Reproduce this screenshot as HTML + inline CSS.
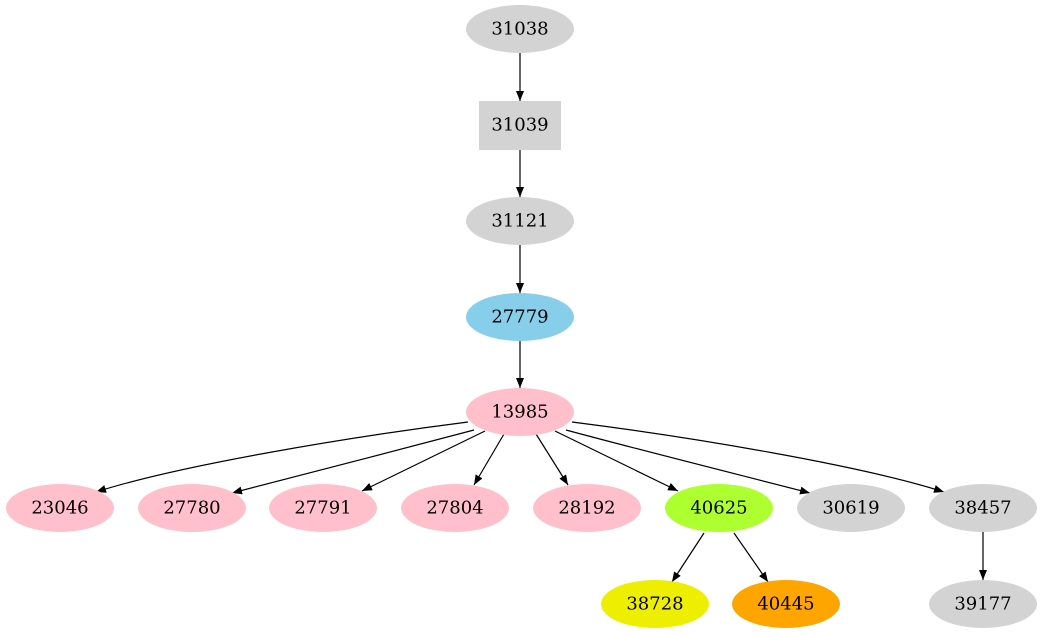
<!DOCTYPE html>
<html><head><meta charset="utf-8"><style>
html,body{margin:0;padding:0;background:#fff;}
svg{display:block;}
text{font-family:"DejaVu Serif",serif;font-size:18px;text-anchor:middle;dominant-baseline:central;fill:#000;}
</style></head><body>
<svg width="1042" height="635" viewBox="0 0 1042 635" xmlns="http://www.w3.org/2000/svg">
<defs><marker id="a" markerUnits="userSpaceOnUse" markerWidth="11" markerHeight="8" refX="10" refY="4" orient="auto"><path d="M0,0 L10,4 L0,8 z" fill="#000"/></marker></defs>
<g stroke="#000" stroke-width="1.2" fill="none" marker-end="url(#a)">
<path d="M520,53 L520,101"/>
<path d="M520,150 L520,197"/>
<path d="M520,245 L520,293"/>
<path d="M520,341 L520,388"/>
<path d="M468,422 C350,437 180,465 96,492"/>
<path d="M474,430 C400,450 300,475 232,493"/>
<path d="M485,431 L362,491"/>
<path d="M504,434 L474,485"/>
<path d="M536,434 L568,485"/>
<path d="M555,431 L678,491"/>
<path d="M566,430 C640,450 740,475 810,493"/>
<path d="M572,422 C690,437 860,465 944,492"/>
<path d="M704,533 L672,582"/>
<path d="M734,533 L768,582"/>
<path d="M983,532 L983,580"/>
</g>
<ellipse cx="520" cy="29" rx="54" ry="24" fill="#d3d3d3"/><text x="520" y="29">31038</text>
<rect x="479" y="101" width="82" height="49" fill="#d3d3d3"/><text x="520" y="125">31039</text>
<ellipse cx="520" cy="221" rx="54" ry="24" fill="#d3d3d3"/><text x="520" y="221">31121</text>
<ellipse cx="520" cy="317" rx="54" ry="24" fill="#87ceeb"/><text x="520" y="317">27779</text>
<ellipse cx="520" cy="412" rx="54" ry="24" fill="#ffc0cb"/><text x="520" y="412">13985</text>
<ellipse cx="60" cy="508" rx="54" ry="24" fill="#ffc0cb"/><text x="60" y="508">23046</text>
<ellipse cx="192" cy="508" rx="54" ry="24" fill="#ffc0cb"/><text x="192" y="508">27780</text>
<ellipse cx="323" cy="508" rx="54" ry="24" fill="#ffc0cb"/><text x="323" y="508">27791</text>
<ellipse cx="455" cy="508" rx="54" ry="24" fill="#ffc0cb"/><text x="455" y="508">27804</text>
<ellipse cx="587" cy="508" rx="54" ry="24" fill="#ffc0cb"/><text x="587" y="508">28192</text>
<ellipse cx="719" cy="508" rx="54" ry="24" fill="#adff2f"/><text x="719" y="508">40625</text>
<ellipse cx="851" cy="508" rx="54" ry="24" fill="#d3d3d3"/><text x="851" y="508">30619</text>
<ellipse cx="983" cy="508" rx="54" ry="24" fill="#d3d3d3"/><text x="983" y="508">38457</text>
<ellipse cx="655" cy="604" rx="54" ry="24" fill="#eeee00"/><text x="655" y="604">38728</text>
<ellipse cx="786" cy="604" rx="54" ry="24" fill="#ffa500"/><text x="786" y="604">40445</text>
<ellipse cx="983" cy="604" rx="54" ry="24" fill="#d3d3d3"/><text x="983" y="604">39177</text>
</svg>
</body></html>
